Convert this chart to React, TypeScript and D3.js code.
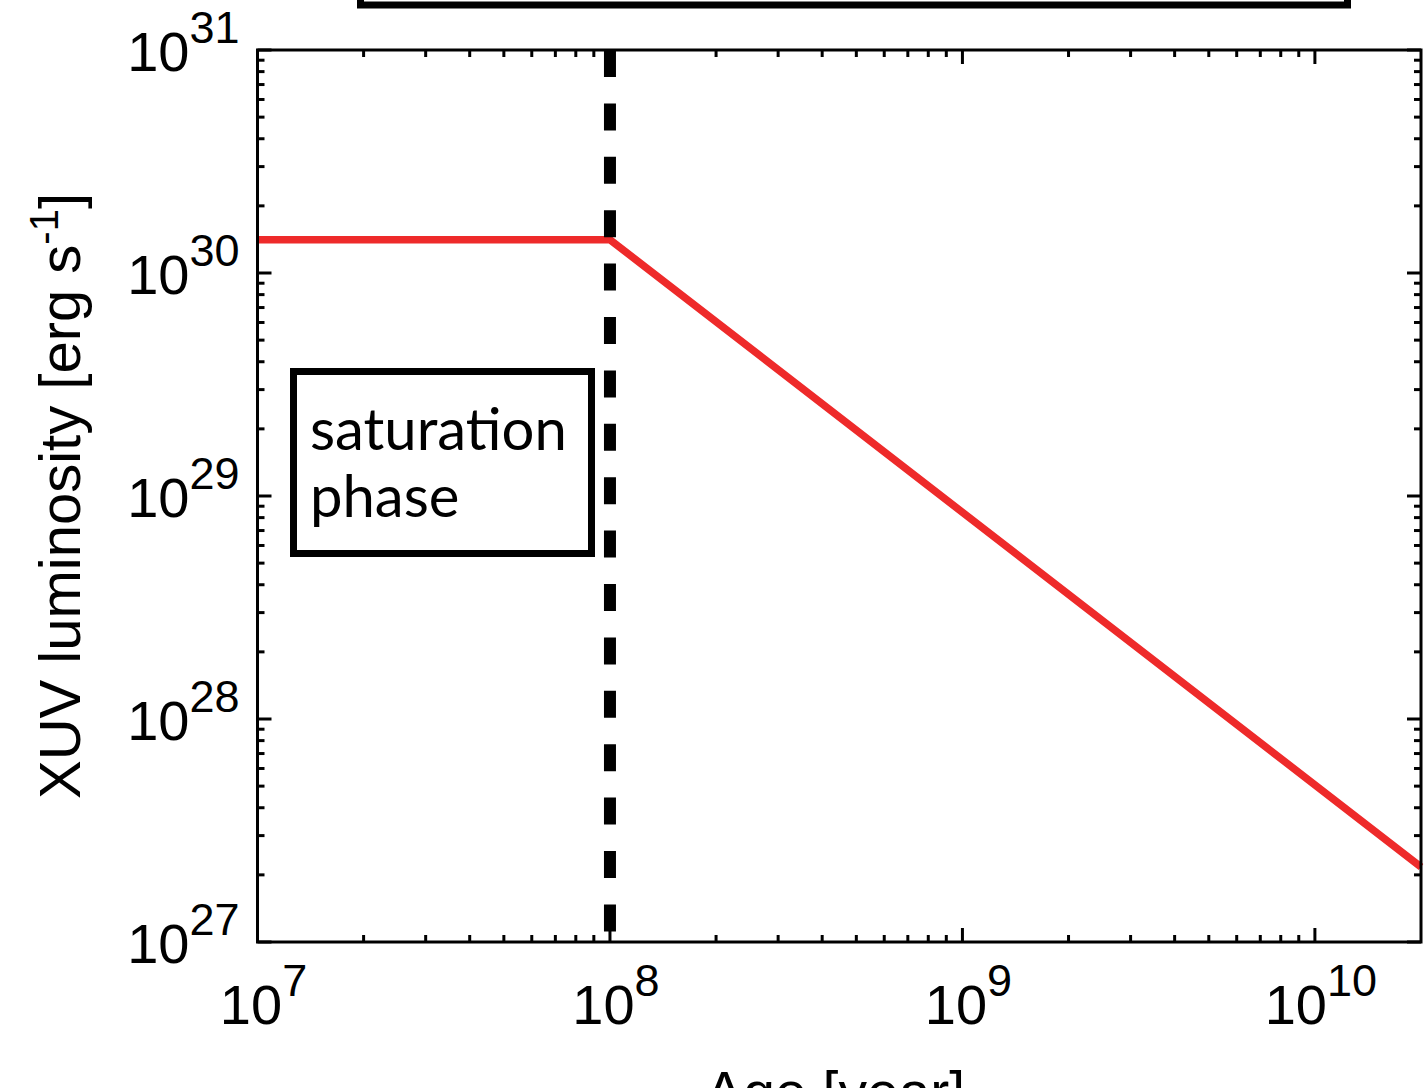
import React from 'react';
import * as d3 from 'd3';

const ageDecades = [1e7, 1e8, 1e9, 1e10];
const ageExponents = ['7', '8', '9', '10'];
const lumDecades = [1e27, 1e28, 1e29, 1e30, 1e31];
const lumExponents = ['27', '28', '29', '30', '31'];

// XUV luminosity track: saturated until 100 Myr, then power-law decline
const ageSeries = [1e7, 1e8, 2e10];
const lumSeries = [1.41e30, 1.41e30, 2.17e27];

const saturationAge = 1e8;
const boxLines = ['saturation', 'phase'];

const W = 1424;
const H = 1088;
const margin = { top: 50, right: 3, bottom: 146, left: 257.5 };
const innerW = W - margin.left - margin.right;
const innerH = H - margin.top - margin.bottom;

const axisFont = '"Liberation Sans", Arial, Helvetica, sans-serif';

const minorTicks = (decades: number[], lo: number, hi: number) => {
  const out: number[] = [];
  decades.forEach(d => {
    for (let k = 2; k <= 9; k++) {
      const v = d * k;
      if (v > lo && v < hi) out.push(v);
    }
  });
  return out;
};

export default function App() {
  const x = d3.scaleLog().domain([1e7, 2e10]).range([0, innerW]);
  const y = d3.scaleLog().domain([1e27, 1e31]).range([innerH, 0]);

  const line = d3
    .line<number>()
    .x(i => x(ageSeries[i]))
    .y(i => y(lumSeries[i]));

  const xMinor = minorTicks(ageDecades, 1e7, 2e10);
  const yMinor = minorTicks(lumDecades, 1e27, 1e31);
  const major = 14;
  const minor = 7;

  return (
    <svg
      width={W}
      height={H}
      style={{ position: 'absolute', left: 0, top: 0, background: '#fff' }}
    >
      {/* partially visible box at the top */}
      <rect x={360.5} y={-60} width={987} height={65} fill="none" stroke="#000" strokeWidth={7} />

      <g transform={`translate(${margin.left},${margin.top})`}>
        {/* data line */}
        <path
          d={line(ageSeries.map((_, i) => i)) || ''}
          fill="none"
          stroke="#ee2a2a"
          strokeWidth={7.5}
          strokeLinejoin="miter"
        />
        {/* saturation boundary */}
        <line
          x1={x(saturationAge)}
          x2={x(saturationAge)}
          y1={y(1e31)}
          y2={y(1e27)}
          stroke="#000"
          strokeWidth={12}
          strokeDasharray="27 26.4"
        />

        {/* ticks */}
        <g stroke="#000" strokeWidth={3}>
          {ageDecades.map(v => (
            <g key={'xM' + v}>
              <line x1={x(v)} x2={x(v)} y1={innerH} y2={innerH - major} />
              <line x1={x(v)} x2={x(v)} y1={0} y2={major} />
            </g>
          ))}
          {xMinor.map(v => (
            <g key={'xm' + v}>
              <line x1={x(v)} x2={x(v)} y1={innerH} y2={innerH - minor} />
              <line x1={x(v)} x2={x(v)} y1={0} y2={minor} />
            </g>
          ))}
          {lumDecades.map(v => (
            <g key={'yM' + v}>
              <line x1={0} x2={major} y1={y(v)} y2={y(v)} />
              <line x1={innerW} x2={innerW - major} y1={y(v)} y2={y(v)} />
            </g>
          ))}
          {yMinor.map(v => (
            <g key={'ym' + v}>
              <line x1={0} x2={minor} y1={y(v)} y2={y(v)} />
              <line x1={innerW} x2={innerW - minor} y1={y(v)} y2={y(v)} />
            </g>
          ))}
        </g>

        {/* frame */}
        <rect x={0} y={0} width={innerW} height={innerH} fill="none" stroke="#000" strokeWidth={3} />

        {/* tick labels and axis titles */}
        <g fontFamily={axisFont} fill="#000">
          {ageDecades.map((v, i) => (
            <text key={'xl' + v} x={x(v) + 6} y={innerH + 82} textAnchor="middle" fontSize={56}>
              10
              <tspan dy={-28} fontSize={45}>
                {ageExponents[i]}
              </tspan>
            </text>
          ))}
          {lumDecades.map((v, i) => (
            <text key={'yl' + v} x={-18} y={y(v) + 21} textAnchor="end" fontSize={56}>
              10
              <tspan dy={-28} fontSize={45}>
                {lumExponents[i]}
              </tspan>
            </text>
          ))}
          <text x={innerW / 2 - 4} y={innerH + 170} textAnchor="middle" fontSize={57}>
            Age [year]
          </text>
          <text
            transform={`translate(${80 - margin.left},${innerH / 2}) rotate(-90)`}
            textAnchor="middle"
            fontSize={58}
          >
            XUV luminosity [erg s
            <tspan dy={-22} fontSize={40}>
              -1
            </tspan>
            <tspan dy={22}>]</tspan>
          </text>
        </g>

        {/* saturation phase label */}
        <rect
          x={293.5 - margin.left}
          y={371.5 - margin.top}
          width={298}
          height={182}
          fill="#fff"
          stroke="#000"
          strokeWidth={7}
        />
        <g fontFamily='Lato, "Open Sans", sans-serif' fontSize={58} fill="#000">
          {boxLines.map((t, i) => (
            <text key={t} x={310 - margin.left} y={450 - margin.top + i * 67}>
              {t}
            </text>
          ))}
        </g>
      </g>
    </svg>
  );
}
